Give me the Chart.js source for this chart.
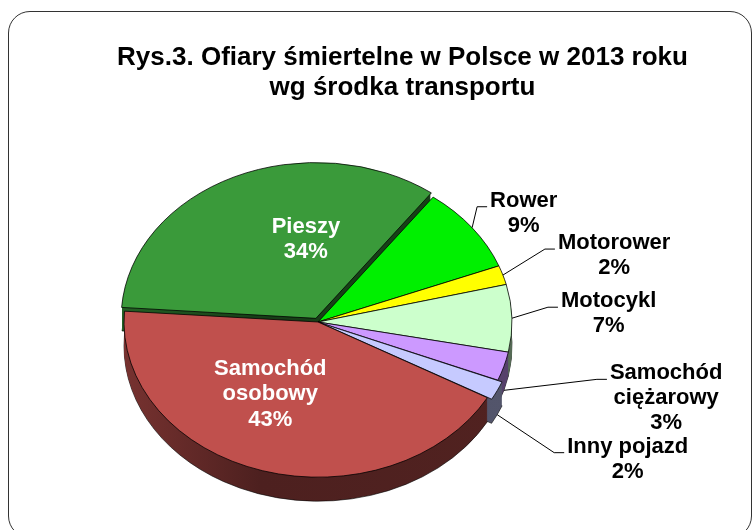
<!DOCTYPE html>
<html>
<head>
<meta charset="utf-8">
<script src="https://cdn.jsdelivr.net/npm/chart.js@4.4.0/dist/chart.umd.min.js"></script>
<style>
  html, body { margin: 0; padding: 0; background: #fff; }
  #wrap { position: relative; width: 753px; height: 530px; overflow: hidden; }
  #frame { position: absolute; left: 8px; top: 11px; width: 744px; height: 527px; border: 1.5px solid #333;
           border-radius: 22px; box-sizing: border-box; }
  #title { position: absolute; left: 52px; width: 701px; top: 41px; text-align: center; color: #000;
           font: bold 26px "Liberation Sans", Arial, sans-serif; line-height: 30px; }
  canvas { position: absolute; left: 0; top: 0; }
</style>
</head>
<body>
<div id="wrap">
  <div id="frame"></div>
  <canvas id="pieChart" width="753" height="530"></canvas>
  <div id="title">Rys.3. Ofiary śmiertelne w Polsce w 2013 roku<br>wg środka transportu</div>
</div>
<script>
// data, clockwise from the Pieszy / Rower boundary
const categories = ['Rower', 'Motorower', 'Motocykl', 'Samochód ciężarowy', 'Inny pojazd', 'Samochód osobowy', 'Pieszy'];
const labelLines = [['Rower'], ['Motorower'], ['Motocykl'], ['Samochód', 'ciężarowy'], ['Inny pojazd'], ['Samochód', 'osobowy'], ['Pieszy']];
const shares = [9, 2, 7, 3, 2, 43, 34];

// styling
const colors = ['#00f000', '#ffff00', '#ccffcc', '#cc99ff', '#c6caff', '#c0504d', '#3a9a3a'];
const explode = [0, 0, 0, 0, 10, 0, 20];
const K = 0.8;      // vertical squash of the pie
const DEPTH = 24;   // thickness of the 3d rim
const FONT = '"Liberation Sans", Arial, sans-serif';

// where each label sits relative to its slice
const labelPlace = [
  { inside: false, dx: 5, dy: -21 },
  { inside: false, dx: 42, dy: -26 },
  { inside: false, dx: 36, dy: -11 },
  { inside: false, dx: 93, dy: -11 },
  { inside: false, dx: 57, dy: 38 },
  { inside: true, dx: -20, dy: -2 },
  { inside: true, dx: 31, dy: -8 }
];

function shade(hex, f) {
  const n = parseInt(hex.slice(1), 16);
  const r = Math.round(((n >> 16) & 255) * f);
  const g = Math.round(((n >> 8) & 255) * f);
  const b = Math.round((n & 255) * f);
  return `rgb(${r},${g},${b})`;
}

// same translation the arc element uses for its offset, squashed
function sliceCenter(a) {
  const off = (a.options.offset || 0) / 4 * (2 - Math.sin(Math.min(Math.PI, a.circumference)));
  const mid = (a.startAngle + a.endAngle) / 2;
  return { x: a.x + Math.cos(mid) * off, y: a.y + Math.sin(mid) * off * K, mid: mid };
}

const pie3d = {
  id: 'pie3d',
  beforeDatasetsDraw(chart) {
    const ctx = chart.ctx;
    const arcs = chart.getDatasetMeta(0).data;
    const cx = arcs[0].x, cy = arcs[0].y, r = arcs[0].outerRadius;

    const fills = arcs.map((a, i) => {
      const g = ctx.createLinearGradient(cx - r, 0, cx + r, 0);
      g.addColorStop(0, shade(colors[i], 0.62));
      g.addColorStop(0.35, shade(colors[i], 0.4));
      g.addColorStop(1, shade(colors[i], 0.42));
      return g;
    });

    // rim: stack the slice outline downwards, deepest first
    for (let k = DEPTH; k >= 1; k--) {
      arcs.forEach((a, i) => {
        const s = sliceCenter(a);
        ctx.beginPath();
        ctx.moveTo(s.x, s.y + k);
        ctx.ellipse(s.x, s.y + k, r, r * K, 0, a.startAngle, a.endAngle);
        ctx.closePath();
        ctx.fillStyle = fills[i];
        ctx.fill();
        if (k === DEPTH) {
          ctx.strokeStyle = 'rgba(0,0,0,0.6)';
          ctx.lineWidth = 1;
          ctx.stroke();
        }
      });
    }

    // top faces are drawn by Chart.js inside a squashed space
    ctx.save();
    ctx.translate(0, cy);
    ctx.scale(1, K);
    ctx.translate(0, -cy);
  },
  afterDatasetsDraw(chart) {
    const ctx = chart.ctx;
    ctx.restore();

    const arcs = chart.getDatasetMeta(0).data;
    const total = shares.reduce((s, v) => s + v, 0);
    ctx.save();
    ctx.font = 'bold 22px ' + FONT;
    ctx.textAlign = 'center';
    ctx.textBaseline = 'middle';

    arcs.forEach((a, i) => {
      const s = sliceCenter(a);
      const r = a.outerRadius;
      const lines = labelLines[i].concat([Math.round(shares[i] / total * 100) + '%']);
      const p = labelPlace[i];

      if (p.inside) {
        const x = s.x + Math.cos(s.mid) * r / 2 + p.dx;
        const y = s.y + Math.sin(s.mid) * r / 2 * K + p.dy;
        const lh = 25.5;
        const y0 = y - (lines.length - 1) * lh / 2;
        ctx.fillStyle = '#fff';
        lines.forEach((t, j) => ctx.fillText(t, x, y0 + j * lh));
      } else {
        const ax = s.x + Math.cos(s.mid) * r;
        const ay = s.y + Math.sin(s.mid) * r * K + (Math.sin(s.mid) > 0.1 ? DEPTH : 0);
        const ex = ax + p.dx, ey = ay + p.dy;
        ctx.beginPath();
        ctx.moveTo(ax, ay);
        ctx.lineTo(ex, ey);
        ctx.lineTo(ex + 10, ey);
        ctx.strokeStyle = '#000';
        ctx.lineWidth = 1;
        ctx.stroke();

        const w = Math.max(...lines.map(t => ctx.measureText(t).width));
        const x = ex + 13 + w / 2;
        ctx.fillStyle = '#000';
        lines.forEach((t, j) => ctx.fillText(t, x, ey - 6 + j * 25));
      }
    });
    ctx.restore();
  }
};

new Chart(document.getElementById('pieChart'), {
  type: 'pie',
  data: {
    labels: categories,
    datasets: [{
      data: shares,
      backgroundColor: colors,
      borderColor: 'rgba(0,0,0,0.85)',
      borderWidth: 1,
      offset: explode,
      radius: 194,
      clip: false
    }]
  },
  options: {
    responsive: false,
    devicePixelRatio: 1,
    animation: false,
    events: [],
    rotation: 36.4,
    layout: { padding: { left: 0, right: 117, top: 114, bottom: 0 } },
    plugins: {
      legend: { display: false },
      tooltip: { enabled: false },
      title: { display: false }
    }
  },
  plugins: [pie3d]
});
</script>
</body>
</html>
